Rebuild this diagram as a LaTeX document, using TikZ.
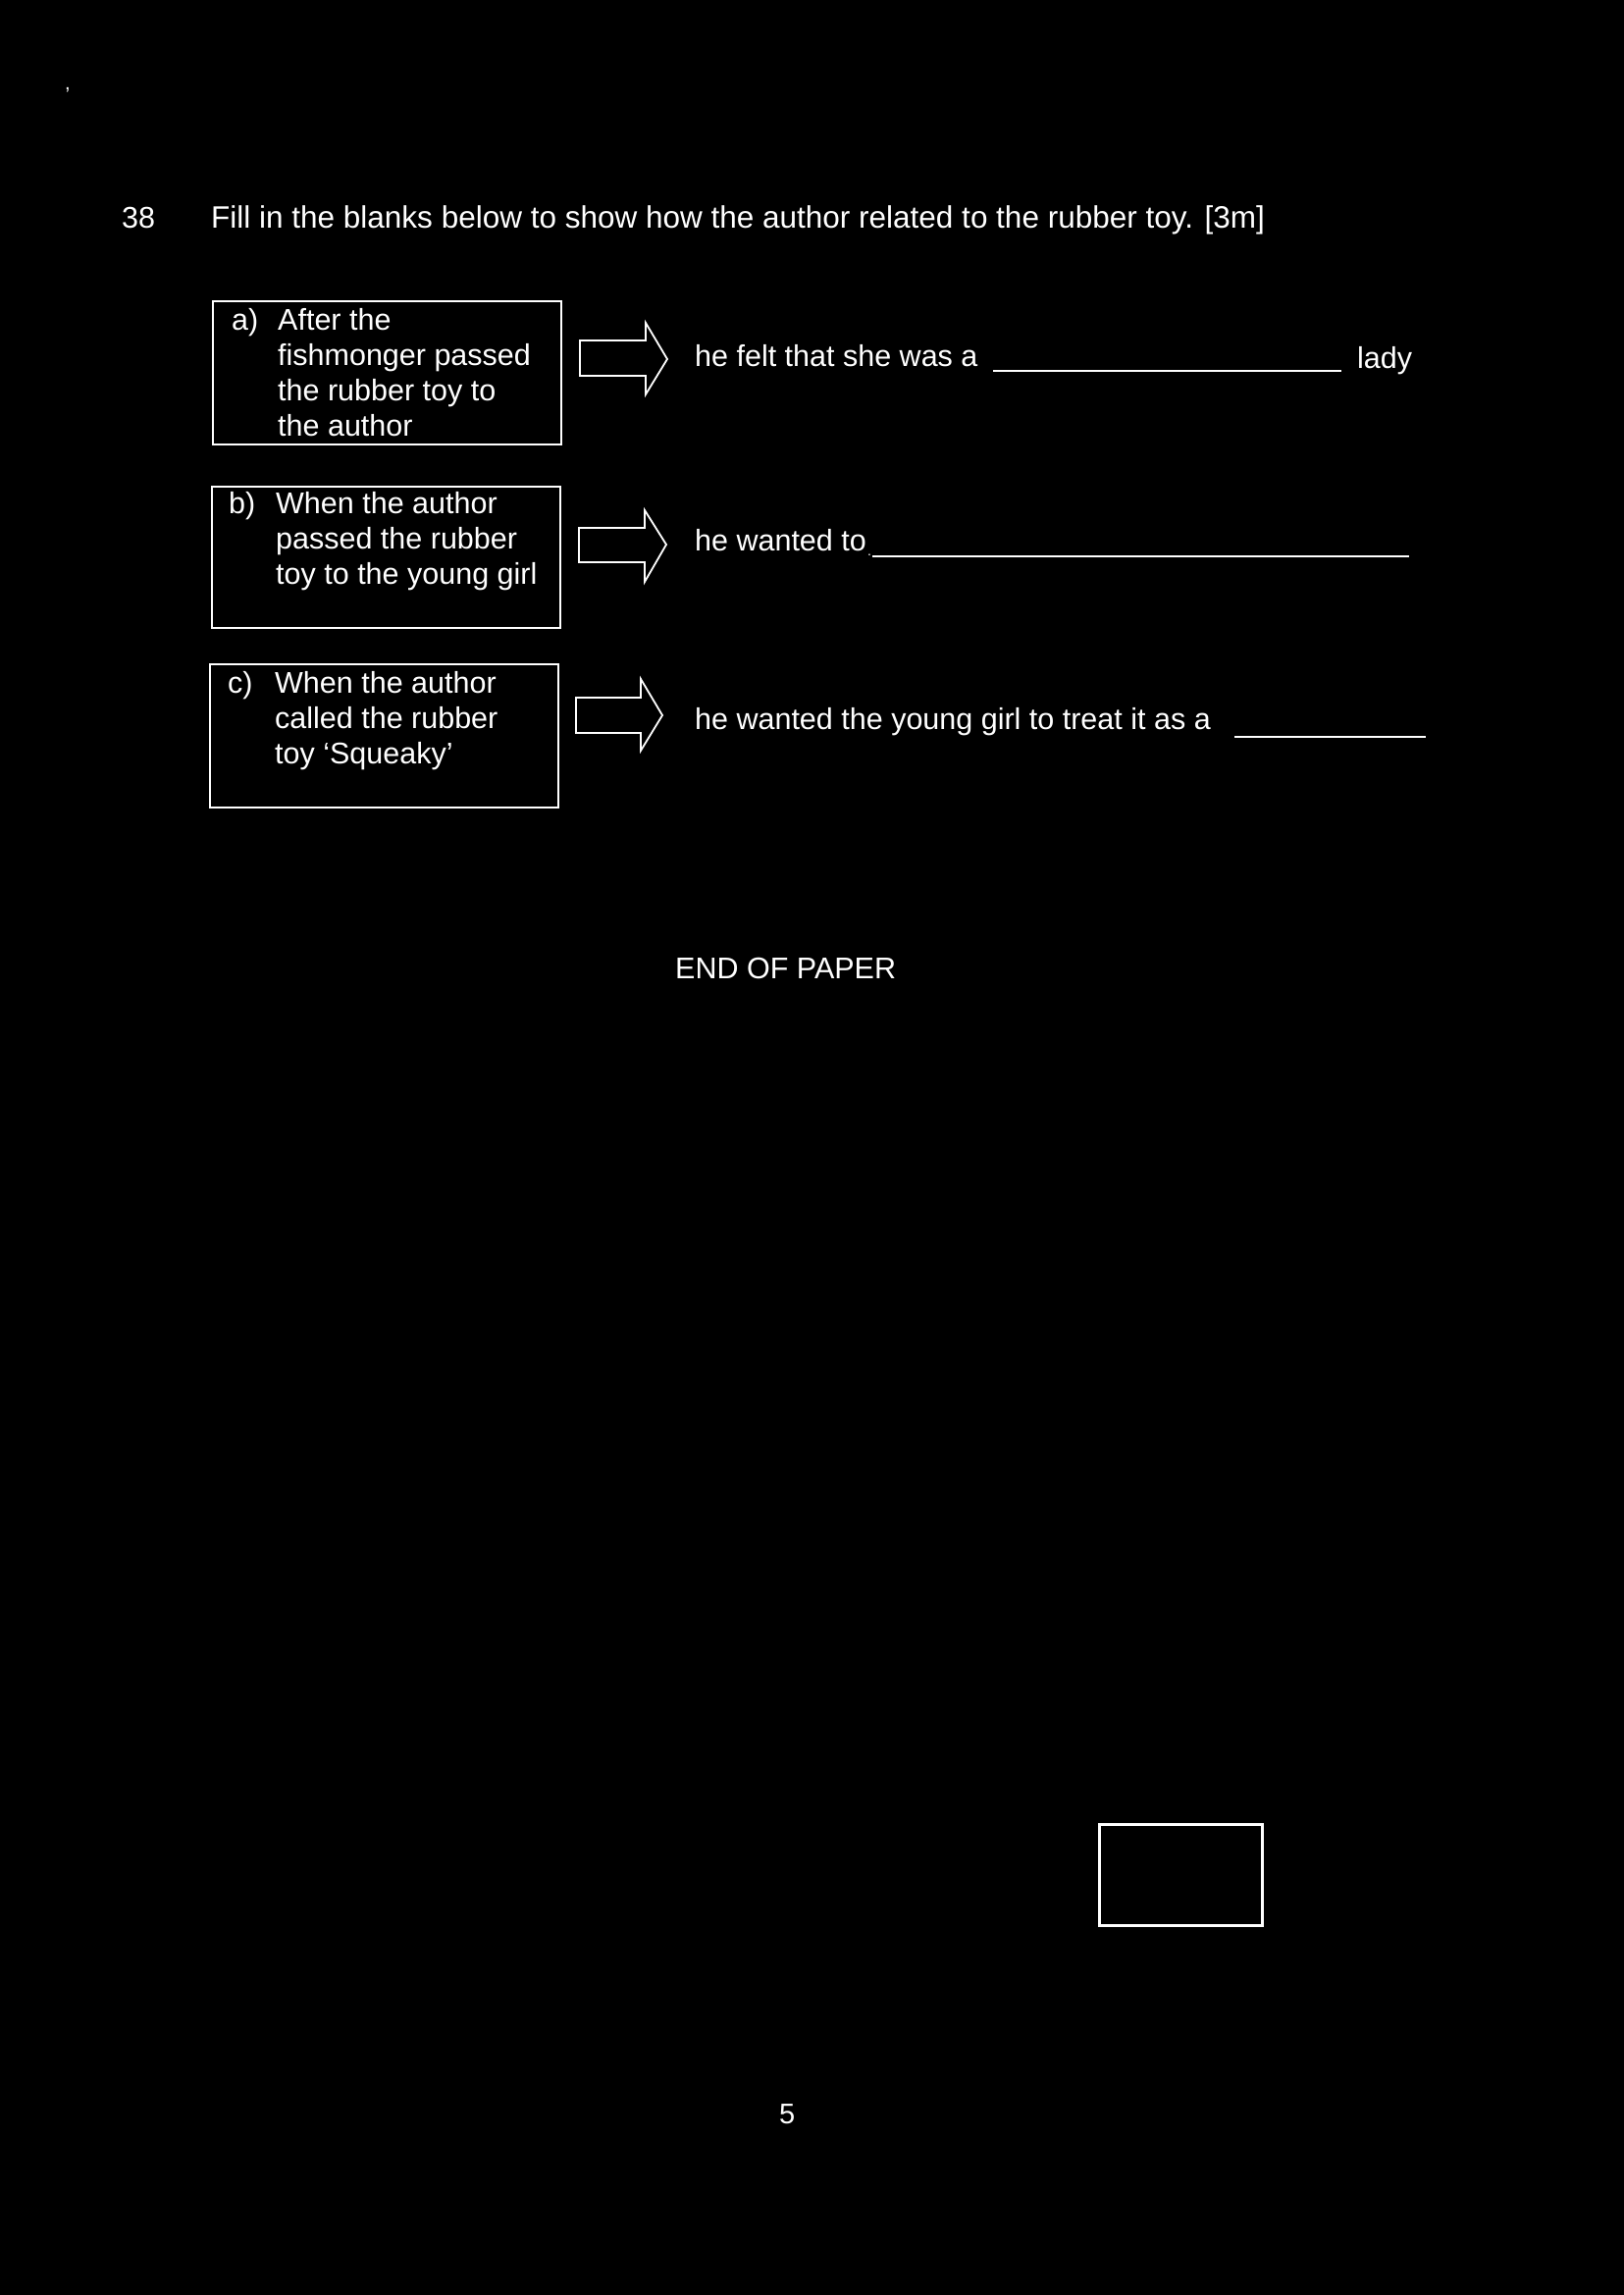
\documentclass[tikz,border=0pt]{standalone}
\usepackage{fontspec}
\setmainfont{Liberation Sans}
\begin{document}
\begin{tikzpicture}[x=1pt,y=-1pt,
  txt/.style={anchor=base west,inner sep=0pt,text=white,font=\fontsize{30.5}{36}\selectfont},
  qbox/.style={draw=white,line width=1.8pt,minimum width=355pt,inner sep=0pt},
  blockarrow/.style={draw=white,line width=1.8pt,line join=miter},
  blank/.style={draw=white,line width=2.6pt}]
\useasboundingbox (0,0) rectangle (1654,2339);
\fill[black] (-10,-10) rectangle (1664,2349);

% stray mark
\node[txt,font=\fontsize{20}{20}\selectfont] (mark) at (66,92) {,};

% question
\node[txt] (qnum) at (124,232) {38};
\node[txt,font=\fontsize{31.5}{36}\selectfont] (qtext) at (215,232) {Fill in the blanks below to show how the author related to the rubber toy. [3m]};

% boxes
\node[qbox,minimum height=146pt] (boxa) at (394.5,380) {};
\node[qbox,minimum height=144pt] (boxb) at (393.5,568) {};
\node[qbox,minimum height=146pt] (boxc) at (391.5,750) {};

\node[txt] (la) at (236,336) {a)};
\node[txt] (ta) at (283,336) {\parbox[t]{280pt}{After the\\fishmonger passed\\the rubber toy to\\the author}};
\node[txt] (lb) at (233,523) {b)};
\node[txt] (tb) at (281,523) {\parbox[t]{290pt}{When the author\\passed the rubber\\toy to the young girl}};
\node[txt] (lc) at (232,706) {c)};
\node[txt] (tc) at (280,706) {\parbox[t]{280pt}{When the author\\called the rubber\\toy `Squeaky'}};

% block arrows
\draw[blockarrow] (591,347) -- (658,347) -- (658,329) -- (680,366) -- (658,402) -- (658,383) -- (591,383) -- cycle;
\draw[blockarrow] (590,538) -- (657,538) -- (657,520) -- (679,555) -- (657,593) -- (657,573) -- (590,573) -- cycle;
\draw[blockarrow] (587,711) -- (653,711) -- (653,692) -- (675,729) -- (653,765) -- (653,747) -- (587,747) -- cycle;

% answers
\node[txt] (ra) at (708,373) {he felt that she was a};
\coordinate (ba1) at (1012,378);
\coordinate (ba2) at (1367,378);
\draw[blank] (ba1) -- (ba2);
\node[txt] (lady) at (1383,375) {lady};

\node[txt] (rb) at (708,561) {he wanted to};
\node[txt,font=\fontsize{14}{14}\selectfont] (dotb) at (884,566) {.};
\coordinate (bb1) at (889,567);
\coordinate (bb2) at (1436,567);
\draw[blank] (bb1) -- (bb2);

\node[txt] (rc) at (708,743) {he wanted the young girl to treat it as a};
\coordinate (bc1) at (1258,751);
\coordinate (bc2) at (1453,751);
\draw[blank] (bc1) -- (bc2);

% end
\node[txt] (endp) at (688,997) {END OF PAPER};
\node[draw=white,line width=3pt,minimum width=166pt,minimum height=103pt,inner sep=0pt] (markbox) at (1203,1910.5) {};
\node[txt,font=\fontsize{29}{34}\selectfont] (page) at (794,2164) {5};
\end{tikzpicture}
\end{document}
